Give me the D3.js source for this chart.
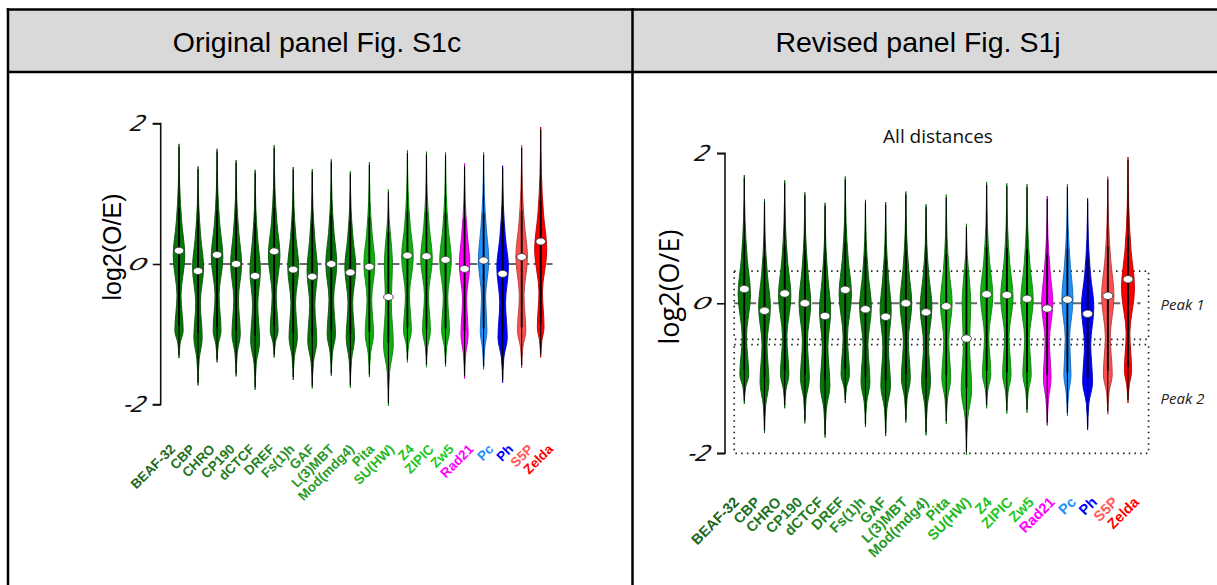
<!DOCTYPE html>
<html>
<head>
<meta charset="utf-8">
<script src="https://cdn.jsdelivr.net/npm/d3@7"></script>
<style>
  html, body { margin: 0; padding: 0; background: #fff; }
  svg { display: block; }
</style>
</head>
<body>
<svg id="fig" width="1217" height="585"></svg>
<script>
// ---- data -------------------------------------------------------------
const proteins = ["BEAF-32","CBP","CHRO","CP190","dCTCF","DREF","Fs(1)h","GAF","L(3)MBT","Mod(mdg4)",
                  "Pita","SU(HW)","Z4","ZIPIC","Zw5","Rad21","Pc","Ph","S5P","Zelda"];
// log2(O/E) range and median of each protein
const maxVal    = [1.71, 1.39, 1.64, 1.48, 1.34, 1.69, 1.38, 1.35, 1.49, 1.32,
                   1.45, 1.06, 1.62, 1.60, 1.59, 1.43, 1.59, 1.40, 1.69, 1.95];
const minVal    = [-1.34,-1.73,-1.40,-1.60,-1.79,-1.33,-1.65,-1.77,-1.59,-1.76,
                   -1.61,-2.02,-1.40,-1.47,-1.46,-1.63,-1.50,-1.69,-1.48,-1.33];
const medianVal = [0.19,-0.10, 0.13, 0.00,-0.17, 0.18,-0.08,-0.18, 0.00,-0.12,
                   -0.04,-0.47, 0.12, 0.11, 0.06,-0.07, 0.05,-0.14, 0.10, 0.32];
// interquartile range
const q3Val     = [0.80, 0.62, 0.76, 0.70, 0.58, 0.80, 0.62, 0.58, 0.70, 0.60,
                   0.66, 0.45, 0.75, 0.74, 0.72, 0.66, 0.72, 0.60, 0.76, 0.90];
const q1Val     = [-0.88,-0.98,-0.90,-0.95,-1.02,-0.88,-0.98,-1.02,-0.95,-1.00,
                   -0.96,-1.12,-0.90,-0.92,-0.92,-0.95,-0.92,-1.00,-0.90,-0.85];
// the two density modes (peak 1 / peak 2) and relative density heights
const mode1     = [0.12,-0.05, 0.10, 0.00,-0.10, 0.12,-0.05,-0.10, 0.00,-0.05,
                   0.00, 0.00, 0.10, 0.08, 0.05, 0.00, 0.05,-0.05, 0.10, 0.20];
const mode2     = [-0.95,-1.05,-0.95,-1.00,-1.10,-0.95,-1.05,-1.10,-1.00,-1.05,
                   -1.00,-1.15,-0.95,-0.95,-0.95,-1.00,-0.95,-1.05,-0.95,-0.90];
const waistVal  = [-0.45,-0.55,-0.45,-0.50,-0.58,-0.45,-0.55,-0.58,-0.50,-0.55,
                   -0.50,-0.55,-0.45,-0.45,-0.47,-0.50,-0.47,-0.55,-0.45,-0.40];
const dens1     = [1.00, 0.95, 1.00, 0.95, 0.90, 1.00, 0.95, 0.90, 0.95, 0.95,
                   0.95, 0.70, 1.00, 1.00, 1.00, 0.90, 0.90, 1.00, 1.00, 1.05];
const densWaist = [0.35, 0.40, 0.35, 0.40, 0.45, 0.35, 0.40, 0.45, 0.40, 0.40,
                   0.40, 0.50, 0.35, 0.35, 0.38, 0.35, 0.35, 0.50, 0.40, 0.30];
const dens2     = [0.72, 0.72, 0.68, 0.72, 0.78, 0.68, 0.72, 0.78, 0.72, 0.72,
                   0.72, 0.85, 0.68, 0.68, 0.68, 0.62, 0.58, 0.80, 0.72, 0.58];

const violinColors = ["#087508","#087508","#087508","#087508","#087508","#087508","#087508","#087508","#087508","#087508",
                      "#10b010","#10b010","#10b010","#10b010","#10b010","#ff00ff","#1e90ff","#0000ff","#ff5050","#ff0000"];
const labelColors  = ["#1b661b","#1d6e1d","#1f731f","#207820","#217c21","#228022","#268e26","#279227","#289728","#2a9b2a",
                      "#22aa22","#22b822","#22c222","#22c622","#22ca22","#ff00ff","#1e90ff","#0000ff","#ff5a5a","#ff0000"];

const yTicks = [2, 0, -2];
const peakBands = [{label: "Peak 1", hi: 0.43, lo: -0.48}, {label: "Peak 2", hi: -0.55, lo: -2.0}];
const headers = ["Original panel Fig. S1c", "Revised panel Fig. S1j"];

const rows = proteins.map((p, i) => ({
  name: p, max: maxVal[i], min: minVal[i], median: medianVal[i], q1: q1Val[i], q3: q3Val[i],
  m1: mode1[i], m2: mode2[i], waist: waistVal[i], d1: dens1[i], dw: densWaist[i], d2: dens2[i],
  fill: violinColors[i], labelColor: labelColors[i]
}));

// ---- table frame --------------------------------------------------------
const svg = d3.select("#fig");
svg.append("rect").attr("x", 8).attr("y", 9.5).attr("width", 1217).attr("height", 62.5).attr("fill", "#d9d9d9");
const frame = svg.append("g").attr("stroke", "#000").attr("stroke-width", 2.5);
frame.append("line").attr("x1", 6.8).attr("x2", 1217).attr("y1", 9.5).attr("y2", 9.5);
frame.append("line").attr("x1", 8).attr("x2", 1217).attr("y1", 72).attr("y2", 72);
frame.append("line").attr("x1", 8).attr("x2", 8).attr("y1", 8.3).attr("y2", 585);
frame.append("line").attr("x1", 632.5).attr("x2", 632.5).attr("y1", 8.3).attr("y2", 585);

svg.selectAll("text.hdr").data(headers).join("text")
  .attr("class", "hdr")
  .attr("x", (d, i) => i === 0 ? 317 : 918)
  .attr("y", 52)
  .attr("text-anchor", "middle")
  .attr("font-family", "Liberation Sans, Arial, sans-serif")
  .attr("font-size", 28.5)
  .attr("fill", "#000")
  .text(d => d);

// ---- violin panel ----------------------------------------------------------
function drawPanel(cfg) {
  const g = svg.append("g");
  const y = d3.scaleLinear().domain([-2, 2]).range([cfg.yBottom, cfg.yTop]);
  const x = d3.scalePoint().domain(proteins).range([cfg.xFirst, cfg.xLast]);
  const step = x.step();
  const w = d3.scaleLinear().domain([0, 1]).range([0, cfg.halfWidth]);

  // peak boxes
  if (cfg.peaks) {
    const bx0 = x(proteins[0]) - 0.5 * step, bx1 = x(proteins[proteins.length - 1]) + 1.02 * step;
    const pb = g.append("g");
    pb.selectAll("rect").data(peakBands).join("rect")
      .attr("x", bx0).attr("width", bx1 - bx0)
      .attr("y", d => y(d.hi)).attr("height", d => y(d.lo) - y(d.hi))
      .attr("fill", "none").attr("stroke", "#222").attr("stroke-width", 1.7)
      .attr("stroke-dasharray", "1.5 4.2");
    pb.selectAll("text").data(peakBands).join("text")
      .attr("x", bx1 + 12).attr("y", d => y((d.hi + d.lo) / 2) + 5)
      .attr("font-family", "Open Sans, Noto Sans, sans-serif")
      .attr("font-style", "italic").attr("font-size", 15).attr("fill", "#222")
      .text(d => d.label);
  }

  // reference line at log2(O/E) = 0
  g.append("line")
    .attr("x1", x(proteins[0]) - 0.5 * step).attr("x2", x(proteins[proteins.length - 1]) + 0.62 * step)
    .attr("y1", y(0)).attr("y2", y(0))
    .attr("stroke", "#6a6a6a").attr("stroke-width", 1.9).attr("stroke-dasharray", "9 4");

  // violins
  const area = d3.area().curve(d3.curveMonotoneY)
    .y(k => y(k[0]));
  rows.forEach(r => {
    const cx = x(r.name);
    const span1 = r.max - r.m1, span2 = r.m2 - r.min;
    const knots = [
      [r.max, 0],
      [r.m1 + 0.62 * span1, 0.12],
      [r.m1 + 0.3 * span1, 0.47],
      [r.m1, r.d1],
      [r.waist, r.dw],
      [r.m2, r.d2],
      [r.m2 - 0.45 * span2, 0.2],
      [r.min, 0]
    ];
    area.x0(k => cx - w(k[1])).x1(k => cx + w(k[1]));
    g.append("path").attr("d", area(knots))
      .attr("fill", r.fill)
      .attr("stroke", d3.color(r.fill).darker(0.9))
      .attr("stroke-width", 0.9);
    g.append("line").attr("x1", cx).attr("x2", cx)
      .attr("y1", y(r.max - 0.04)).attr("y2", y(r.min + 0.04))
      .attr("stroke", "#000").attr("stroke-width", 1.1);
    g.append("line").attr("x1", cx).attr("x2", cx)
      .attr("y1", y(r.q3)).attr("y2", y(r.q1))
      .attr("stroke", "#000").attr("stroke-width", 1.8);
    g.append("ellipse").attr("cx", cx).attr("cy", y(r.median))
      .attr("rx", cfg.dotRx).attr("ry", cfg.dotRy)
      .attr("fill", "#fff").attr("stroke", "#3a3a3a").attr("stroke-width", 0.9);
  });

  // y axis
  const axis = g.append("g").attr("transform", `translate(${cfg.axisX},0)`)
    .call(d3.axisLeft(y).tickValues(yTicks).tickSize(8).tickFormat(""));
  axis.select(".domain").attr("stroke", "#111").attr("stroke-width", 1.6)
    .attr("d", `M-8,${y(2)}H0V${y(-2)}H-8`);
  axis.selectAll(".tick line").attr("stroke", "#111").attr("stroke-width", 1.6);
  g.selectAll("text.ytick").data(yTicks).join("text")
    .attr("class", "ytick")
    .attr("transform", d => `translate(${cfg.axisX - 22 - (d < 0 ? 3 : 0)},${y(d)}) skewX(-18) scale(${d === 0 ? 1.35 : 1},${d === 0 ? 0.75 : 1})`)
    .attr("text-anchor", "middle").attr("dy", "0.36em")
    .attr("font-family", "DejaVu Sans, sans-serif").attr("font-style", "italic")
    .attr("font-size", 22).attr("fill", "#111")
    .text(d => d === 0 ? "0" : (d < 0 ? "-" + Math.abs(d) : d));

  // y title
  g.append("text")
    .attr("transform", `translate(${cfg.titleX},${cfg.titleY}) rotate(-90)`)
    .attr("text-anchor", "middle").attr("dy", "0.35em")
    .attr("font-family", cfg.titleFont).attr("font-size", cfg.titleSize).attr("fill", "#000")
    .text("log2(O/E)");

  if (cfg.subtitle) {
    g.append("text").attr("x", cfg.subtitle.x).attr("y", cfg.subtitle.y)
      .attr("text-anchor", "middle").attr("font-family", "Open Sans, Noto Sans, sans-serif")
      .attr("font-size", 19).attr("fill", "#111").text(cfg.subtitle.text);
  }

  // rotated category labels
  const lx = d3.scalePoint().domain(proteins).range([cfg.labelFirst, cfg.labelLast]);
  g.selectAll("text.cat").data(rows).join("text")
    .attr("class", "cat")
    .attr("transform", d => `translate(${lx(d.name)},${cfg.labelY}) rotate(-45)`)
    .attr("text-anchor", "end")
    .attr("font-family", "Liberation Sans, Arial, sans-serif").attr("font-weight", "bold")
    .attr("font-size", cfg.labelSize).attr("fill", d => d.labelColor)
    .text(d => d.name);
}

drawPanel({
  yTop: 123.5, yBottom: 404.5, xFirst: 179, xLast: 540.7, halfWidth: 5.8,
  axisX: 160.7, dotRx: 4.8, dotRy: 3.5,
  titleX: 112, titleY: 247, titleFont: "Liberation Sans, Arial, sans-serif", titleSize: 25,
  labelFirst: 176, labelLast: 554, labelY: 450, labelSize: 13.5
});
drawPanel({
  yTop: 153.3, yBottom: 453.3, xFirst: 744.3, xLast: 1128, halfWidth: 6.2,
  axisX: 725, dotRx: 5, dotRy: 3.7,
  titleX: 670, titleY: 287, titleFont: "Open Sans, Noto Sans, sans-serif", titleSize: 27,
  labelFirst: 740, labelLast: 1140, labelY: 503, labelSize: 14.5,
  peaks: true, subtitle: {x: 938, y: 143, text: "All distances"}
});
</script>
</body>
</html>
